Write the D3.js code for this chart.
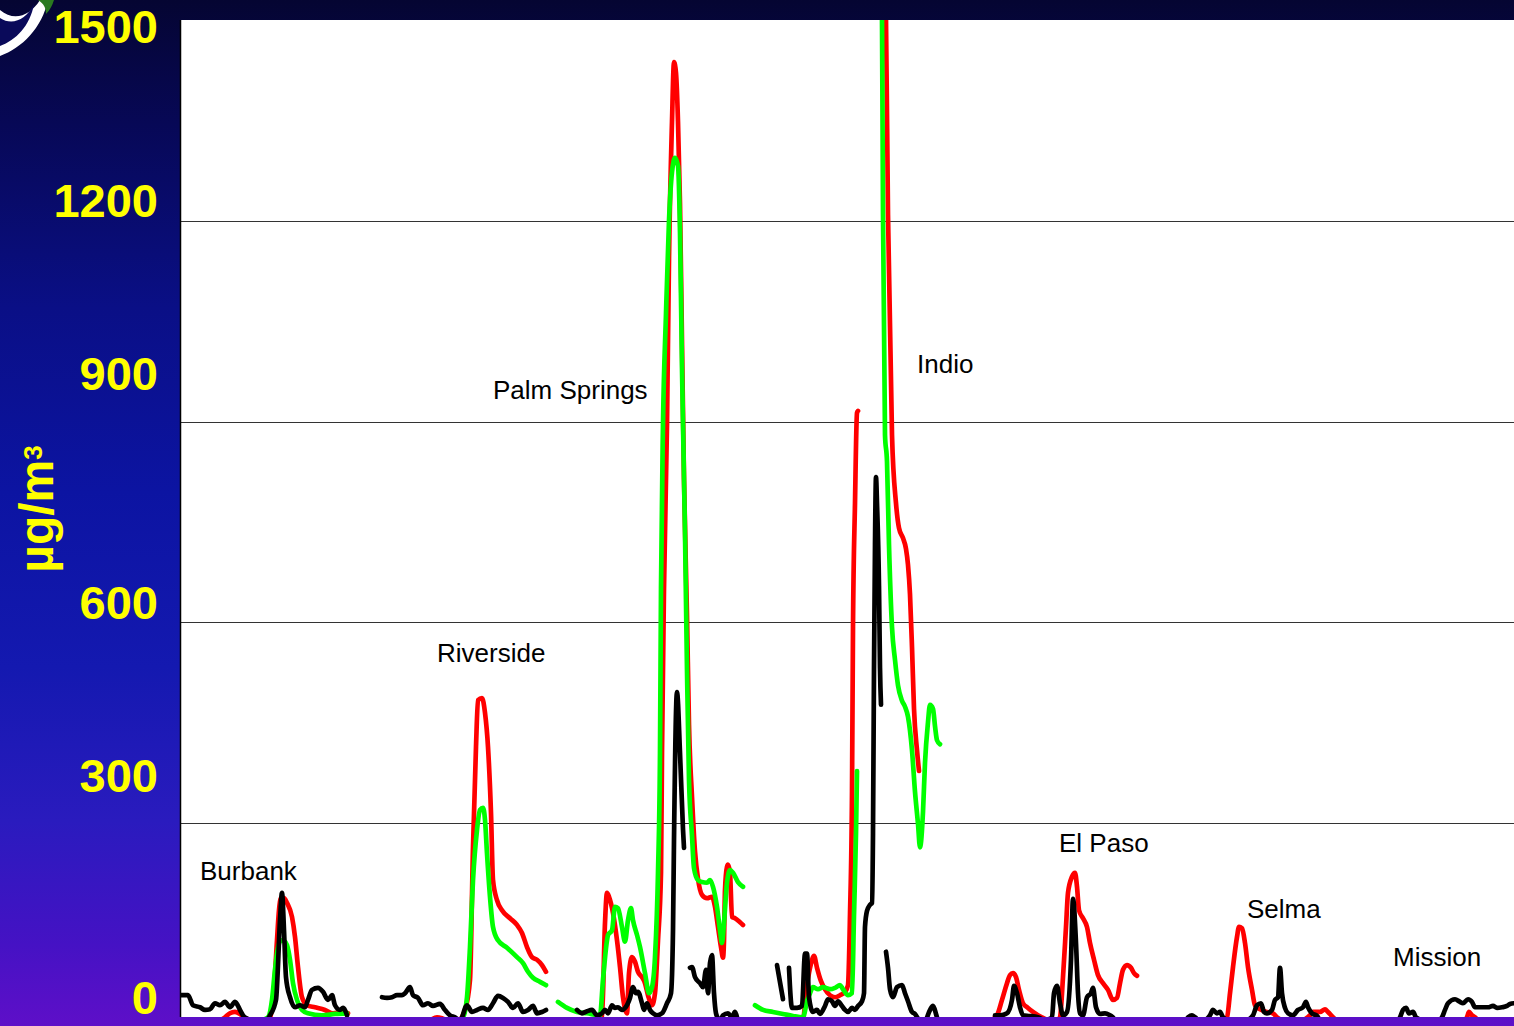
<!DOCTYPE html>
<html><head><meta charset="utf-8">
<script src="https://cdn.jsdelivr.net/npm/d3@7"></script>
<style>html,body{margin:0;padding:0;overflow:hidden;background:#0a0f80}</style>
</head><body>
<svg id="chart" width="1514" height="1026"></svg>
<script>
// ---------- DATA (time index in hours, concentration in µg/m3) ----------
const yTicks = [0, 300, 600, 900, 1200, 1500];
const gridValues = [300, 600, 900, 1200];

const sites = ["Burbank", "Riverside", "Palm Springs", "Indio", "El Paso", "Selma", "Mission"];
const siteLabelT = [20, 257, 313, 737, 879, 1067, 1213];
const siteLabelV = [215, 541, 934, 973, 257, 158, 87];

const blackSeries = [
 [[0,43],[8,43],[13,28],[20,25],[25,21],[30,22],[35,31],[40,28],[45,33],[50,25],[55,33],[60,21],[63,13],[66,9],[75,5],[85,5],[90,13],[96,36],[100,155],[102,196],[104,140],[106,70],[110,40],[115,25],[120,28],[125,25],[128,36],[132,51],[138,54],[143,48],[148,36],[152,43],[155,28],[160,21],[163,24],[167,13]],
 [[202,40],[207,39],[212,40],[217,43],[222,43],[225,46],[230,55],[233,43],[238,39],[243,28],[248,31],[253,27],[260,30],[265,21],[270,13],[275,10],[280,5],[287,28],[292,18],[297,21],[303,24],[308,21],[313,31],[318,42],[323,39],[328,33],[333,24],[338,31],[343,18],[348,21],[353,27],[357,16],[362,18],[366,21]],
 [[397,21],[402,16],[407,19],[412,21],[417,13],[422,16],[425,21],[428,16],[432,28],[435,24],[438,25],[442,21],[445,24],[450,39],[453,55],[456,46],[458,48],[462,31],[464,21],[467,31],[470,21],[473,16],[477,13],[482,16],[487,31],[491,46],[493,140],[494,275],[497,496],[500,405],[503,291],[504,263]],
 [[510,84],[512,85],[515,70],[520,61],[523,55],[526,81],[528,46],[530,91],[532,103],[534,46],[536,16],[540,5],[543,13],[548,16],[552,10],[555,18],[557,10]],
 [[597,88],[603,37]],
 [[609,84],[612,24],[617,24],[622,27],[625,105],[627,105],[629,40],[633,18],[637,21],[640,15],[645,27],[648,37],[652,34],[655,27],[658,34],[662,27],[665,21],[668,18],[672,24],[675,21],[678,27],[682,34],[684,46],[685,145],[687,169],[690,178],[692,181],[693,285],[694,532],[695,716],[696,817],[697,778],[699,654],[700,532],[701,477]],
 [[706,108],[708,84],[710,52],[713,40],[717,55],[722,58],[725,46],[728,34],[732,18],[735,15],[740,5],[745,5],[750,21],[753,27],[756,15],[758,4]],
 [[815,13],[820,13],[827,16],[832,36],[834,57],[837,46],[840,25],[843,13],[850,12],[858,10],[865,6],[872,10],[874,46],[877,57],[880,31],[883,13],[887,18],[891,96],[893,187],[896,121],[898,46],[900,16],[903,13],[907,40],[911,46],[913,54],[916,25],[920,15],[925,16],[930,13],[933,10]],
 [[1008,10],[1012,13],[1015,10],[1020,5],[1025,6],[1030,13],[1033,21],[1037,16],[1040,18],[1043,10],[1050,5],[1065,5],[1073,13],[1077,28],[1081,31],[1084,18],[1087,16],[1092,21],[1095,36],[1098,40],[1100,84],[1102,46],[1105,24],[1108,16],[1113,13],[1118,21],[1123,25],[1126,33],[1128,25],[1132,16],[1137,12],[1140,5]],
 [[1217,5],[1220,10],[1223,21],[1226,24],[1229,16],[1233,18],[1236,10],[1245,5],[1258,5],[1262,10],[1265,21],[1268,31],[1275,37],[1280,33],[1283,31],[1288,37],[1292,33],[1295,25],[1302,25],[1308,25],[1313,27],[1317,24],[1322,25],[1327,27],[1330,30],[1334,31]]
];

const redSeries = [
 [[40,5],[45,10],[50,16],[55,18],[60,15],[65,9],[75,5],[85,5],[90,10],[94,51],[97,125],[99,170],[101,188],[104,188],[107,181],[112,160],[115,130],[118,85],[122,40],[127,28],[135,25],[145,21],[153,16],[162,18],[168,16]],
 [[250,5],[257,10],[263,8],[270,4],[278,5],[285,21],[290,66],[293,264],[296,414],[298,484],[302,487],[305,465],[308,414],[311,315],[313,215],[317,185],[322,170],[330,158],[337,148],[342,136],[347,115],[352,100],[357,96],[362,88],[366,78]],
 [[415,5],[422,10],[425,151],[427,196],[429,190],[433,166],[437,125],[440,85],[443,40],[447,16],[449,76],[452,100],[455,93],[458,78],[462,70],[465,61],[468,43],[472,28],[475,46],[478,125],[481,226],[482,405],[484,651],[487,896],[489,1143],[492,1348],[494,1437],[496,1421],[498,1348],[500,1225],[502,1019],[504,814],[507,610],[509,447],[512,339],[515,258],[518,217],[522,193],[527,188],[532,190],[535,175],[538,145],[541,115],[543,99],[544,125],[545,200],[547,235],[548,238],[550,226],[552,160],[555,158],[560,152],[563,148]],
 [[615,5],[623,10],[627,58],[631,90],[634,102],[637,84],[641,64],[645,52],[650,43],[655,40],[660,43],[665,48],[668,58],[670,163],[672,347],[673,593],[675,778],[677,913],[678,916]],
 [[705,1560],[706,1500],[708,1209],[712,880],[716,778],[719,741],[723,726],[726,710],[728,686],[730,642],[732,563],[734,471],[737,409],[739,378]],
 [[810,5],[817,13],[822,36],[827,61],[830,73],[833,76],[836,70],[839,51],[843,31],[848,24],[853,18],[858,13],[862,10],[870,5],[877,5],[880,10],[883,70],[886,145],[888,196],[892,220],[895,226],[897,205],[899,170],[903,158],[907,145],[910,121],[914,96],[918,73],[923,61],[928,51],[933,36],[937,39],[940,61],[943,81],[947,88],[951,84],[954,76],[957,72]],
 [[1042,5],[1047,10],[1050,46],[1053,85],[1057,130],[1059,145],[1062,143],[1065,121],[1068,85],[1072,51],[1075,28],[1080,22],[1087,18],[1093,16],[1097,10],[1105,5],[1120,5],[1130,13],[1133,18],[1140,18],[1145,22],[1148,18],[1153,10],[1157,5]],
 [[1284,5],[1287,10],[1289,18],[1292,13],[1295,10],[1298,5]]
];

const greenSeries = [
 [[80,5],[88,10],[92,36],[95,81],[98,114],[101,125],[104,124],[107,118],[110,96],[113,61],[117,36],[122,21],[128,16],[142,13],[155,15],[167,16]],
 [[278,5],[283,10],[287,40],[290,115],[293,215],[297,290],[300,320],[303,323],[305,305],[307,255],[310,190],[313,145],[318,125],[327,114],[337,100],[343,91],[348,78],[353,69],[360,63],[366,58]],
 [[378,33],[387,24],[397,18],[407,16],[420,13],[423,66],[427,125],[428,133],[432,140],[435,175],[438,173],[442,145],[445,123],[448,155],[451,173],[453,155],[457,133],[460,115],[465,76],[469,46],[472,55],[475,100],[478,226],[480,405],[481,651],[483,896],[486,1061],[489,1200],[492,1273],[495,1294],[498,1282],[500,1183],[502,979],[505,734],[507,529],[509,365],[512,282],[514,233],[518,215],[522,212],[527,211],[530,215],[533,205],[537,175],[540,140],[542,121],[544,151],[547,211],[550,230],[553,226],[558,212],[563,205]],
 [[575,28],[583,21],[593,18],[603,15],[613,12],[623,10],[627,34],[630,46],[633,55],[638,52],[643,55],[650,52],[655,54],[660,58],[663,52],[668,43],[672,46],[674,163],[676,285],[677,378]],
 [[701,1560],[702,1500],[703,1209],[705,880],[707,840],[709,716],[712,593],[715,544],[718,506],[722,483],[725,474],[728,459],[732,409],[735,347],[738,299],[740,264],[743,317],[745,390],[748,451],[750,477],[753,471],[755,445],[757,424],[760,418]]
];

// ---------- LAYOUT ----------
const W = 1514, H = 1026;
const plotL = 180, plotR = 1514, plotT = 20, plotB = 1017, zeroY = 1024;
const tickLabelNudge = {0:-10, 300:-31, 600:-3, 900:-32, 1200:-4, 1500:23};

const svg = d3.select('#chart');
const defs = svg.append('defs');

const grad = defs.append('linearGradient').attr('id','bg')
  .attr('x1',0).attr('y1',0).attr('x2',0).attr('y2',1);
[[0,'#050532'],[0.12,'#070856'],[0.3,'#0a0f86'],[0.48,'#0c14a2'],[0.65,'#1419b0'],[0.8,'#2a1bbe'],[0.92,'#4512c4'],[1,'#5e0fc8']]
  .forEach(([o,c]) => grad.append('stop').attr('offset',o).attr('stop-color',c));
svg.append('rect').attr('width',W).attr('height',H).attr('fill','url(#bg)');

// logo fragment (top-left)
const logo = svg.append('g');
logo.append('path').attr('d','M0,10 C14,22 30,16 40,0 L48,0 C42,28 22,48 0,56 Z').attr('fill','#ffffff');
logo.append('path').attr('d','M0,18 C12,26 26,20 34,4 C30,26 16,40 0,46 Z').attr('fill','#0a0a5a');
logo.append('path').attr('d','M38,0 L54,0 C52,6 50,10 46,14 C46,8 44,4 38,0 Z').attr('fill','#2a7a20');

const x = d3.scaleLinear().domain([0, 1334]).range([plotL, plotR]);
const y = d3.scaleLinear().domain([0, 1500]).range([zeroY, plotT]);

// plot area
svg.append('rect').attr('x',plotL).attr('y',plotT).attr('width',plotR-plotL).attr('height',plotB-plotT).attr('fill','#ffffff');
defs.append('clipPath').attr('id','clip').append('rect')
  .attr('x',plotL).attr('y',plotT).attr('width',plotR-plotL).attr('height',plotB-plotT);

// gridlines
svg.append('g').selectAll('line').data(gridValues).join('line')
  .attr('x1',plotL).attr('x2',plotR)
  .attr('y1',d=>Math.round(y(d))+0.5).attr('y2',d=>Math.round(y(d))+0.5)
  .attr('stroke','#333').attr('stroke-width',1.2);

// left axis line
svg.append('line').attr('x1',plotL+0.5).attr('x2',plotL+0.5).attr('y1',plotT).attr('y2',plotB)
  .attr('stroke','#000').attr('stroke-width',1.5);

// lines
const line = d3.line().x(d=>x(d[0])).y(d=>y(d[1])).curve(d3.curveMonotoneX);
const lg = svg.append('g').attr('clip-path','url(#clip)');
[[redSeries,'#ff0000'],[greenSeries,'#00ff00'],[blackSeries,'#000000']].forEach(([segs,col]) => {
  lg.append('g').selectAll('path').data(segs).join('path')
    .attr('d', line).attr('fill','none').attr('stroke',col)
    .attr('stroke-width',4.7).attr('stroke-linejoin','round').attr('stroke-linecap','round');
});

// site labels
svg.append('g').selectAll('text').data(sites).join('text')
  .attr('x',(d,i)=>x(siteLabelT[i])).attr('y',(d,i)=>y(siteLabelV[i]))
  .attr('font-family','Liberation Sans, Arial, sans-serif').attr('font-size',26)
  .attr('fill','#000').text(d=>d);

// y tick labels
svg.append('g').selectAll('text').data(yTicks).join('text')
  .attr('x',158).attr('y',d=>y(d)+tickLabelNudge[d])
  .attr('text-anchor','end')
  .attr('font-family','Liberation Sans, Arial, sans-serif').attr('font-weight','bold').attr('font-size',47)
  .attr('fill','#ffff00').text(d=>d);

// y axis title
const yt = svg.append('text').attr('transform','translate(53,509) rotate(-90)')
  .attr('text-anchor','middle')
  .attr('font-family','Liberation Sans, Arial, sans-serif').attr('font-weight','bold').attr('font-size',48)
  .attr('fill','#ffff00');
yt.append('tspan').text('µg/m');
yt.append('tspan').attr('font-size',26).attr('dy',-11).text('3');
</script>
</body></html>
